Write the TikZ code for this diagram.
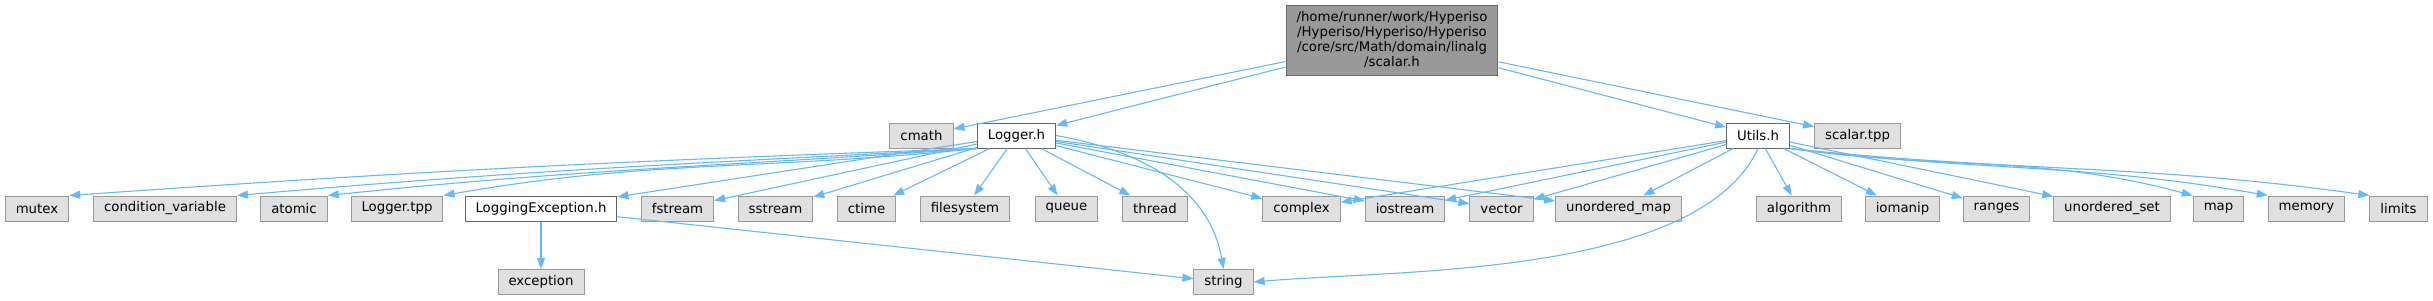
\documentclass[tikz,border=0pt]{standalone}
\usepackage{fontspec}
\setmainfont{DejaVu Sans}
\usetikzlibrary{arrows.meta}
\definecolor{edgeblue}{HTML}{63B8FF}
\definecolor{boxgray}{HTML}{E0E0E0}
\definecolor{linegray}{HTML}{999999}
\definecolor{darkline}{HTML}{666666}
\tikzset{
  inc/.style={draw=linegray,fill=boxgray,line width=1pt,inner xsep=10.5pt,inner ysep=0pt,
    minimum height=25pt,font=\fontsize{13.3}{15}\selectfont},
  hdr/.style={inc,draw=darkline,fill=white},
  dep/.style={draw=edgeblue,line width=1.1pt,-{Triangle[length=11pt,width=8pt,fill=edgeblue]}}
}
\begin{document}
\begin{tikzpicture}[x=1pt,y=1pt]
  \useasboundingbox (0,0) rectangle (2433,-300);
  \node[inc,draw=darkline,fill=linegray,minimum width=210pt,minimum height=70pt,align=center]
    (scalarh) at (1392,-40) {/home/runner/work/Hyperiso\\/Hyperiso/Hyperiso/Hyperiso\\/core/src/Math/domain/linalg\\/scalar.h};
  \node[inc] (cmath) at (921.5,-135.5) {cmath};
  \node[hdr] (logger) at (1016.5,-135.5) {Logger.h};
  \node[hdr] (utils) at (1758,-135.5) {Utils.h};
  \node[inc] (scalartpp) at (1857.5,-135.5) {scalar.tpp};
  \node[inc] (mutex) at (37,-208.5) {mutex};
  \node[inc] (condvar) at (165,-208.5) {condition\_variable};
  \node[inc] (atomic) at (294,-208.5) {atomic};
  \node[inc] (loggertpp) at (397,-208.5) {Logger.tpp};
  \node[hdr] (logexc) at (541,-208.5) {LoggingException.h};
  \node[inc] (fstream) at (677.5,-208.5) {fstream};
  \node[inc] (sstream) at (775.5,-208.5) {sstream};
  \node[inc] (ctime) at (866.5,-208.5) {ctime};
  \node[inc] (filesystem) at (965,-208.5) {filesystem};
  \node[inc] (queue) at (1066.5,-208.5) {queue};
  \node[inc] (thread) at (1155,-208.5) {thread};
  \node[inc] (complex) at (1301.5,-208.5) {complex};
  \node[inc] (iostream) at (1405,-208.5) {iostream};
  \node[inc] (vector) at (1501.5,-208.5) {vector};
  \node[inc] (umap) at (1618.5,-208.5) {unordered\_map};
  \node[inc] (algorithm) at (1799,-208.5) {algorithm};
  \node[inc] (iomanip) at (1902.5,-208.5) {iomanip};
  \node[inc] (ranges) at (1996.5,-208.5) {ranges};
  \node[inc] (uset) at (2112,-208.5) {unordered\_set};
  \node[inc] (map) at (2218.5,-208.5) {map};
  \node[inc] (memory) at (2306.5,-208.5) {memory};
  \node[inc] (limits) at (2398.5,-208.5) {limits};
  \node[inc] (exception) at (541,-282) {exception};
  \node[inc] (string) at (1223.5,-282) {string};

  \draw[dep] (scalarh) -- (cmath);
  \draw[dep] (scalarh) -- (logger);
  \draw[dep] (scalarh) -- (utils);
  \draw[dep] (scalarh) -- (scalartpp);

  \draw[dep] (logger.south west) to[out=182,in=4] (mutex.north east);
  \draw[dep] (logger.south west) to[out=183,in=5] (condvar.north east);
  \draw[dep] (logger.south west) to[out=184,in=6] (atomic.north east);
  \draw[dep] (logger.south west) to[out=186,in=10] (loggertpp.north east);
  \draw[dep] (logger) -- (logexc);
  \draw[dep] (logger) -- (fstream);
  \draw[dep] (logger) -- (sstream);
  \draw[dep] (logger) -- (ctime);
  \draw[dep] (logger) -- (filesystem);
  \draw[dep] (logger) -- (queue);
  \draw[dep] (logger) -- (thread);
  \draw[dep] (logger.east) to[out=-10,in=100] (string.north);
  \draw[dep] (logger) -- (complex);
  \draw[dep] (logger) -- (iostream);
  \draw[dep] (logger) -- (vector);
  \draw[dep] (logger) -- (umap);

  \draw[dep] (logexc) -- (exception);
  \draw[dep] (logexc) -- (string);

  \draw[dep] (utils) -- (complex);
  \draw[dep] (utils) -- (iostream);
  \draw[dep] (utils) -- (vector);
  \draw[dep] (utils) -- (umap);
  \draw[dep] (utils.south) to[out=-115,in=5,looseness=0.7] (string.east);
  \draw[dep] (utils) -- (algorithm);
  \draw[dep] (utils) -- (iomanip);
  \draw[dep] (utils) -- (ranges);
  \draw[dep] (utils) -- (uset);
  \draw[dep] (utils.south east) to[out=-8,in=165] (map.north west);
  \draw[dep] (utils.south east) to[out=-7,in=170] (memory.north west);
  \draw[dep] (utils.south east) to[out=-6,in=172] (limits.north west);
\end{tikzpicture}
\end{document}
